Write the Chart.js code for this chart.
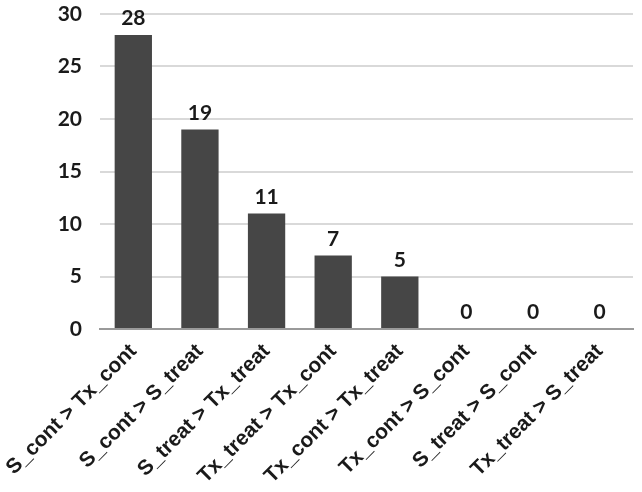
<!DOCTYPE html>
<html>
<head>
<meta charset="utf-8">
<script src="https://cdn.jsdelivr.net/npm/chart.js@4"></script>
<style>
  html, body { margin: 0; padding: 0; background: #fff; }
  #wrap { width: 642px; height: 492px; }
</style>
</head>
<body>
<div id="wrap"><canvas id="chart"></canvas></div>
<script>
const categories = [
  "S_cont > Tx_cont",
  "S_cont > S_treat",
  "S_treat > Tx_treat",
  "Tx_treat > Tx_cont",
  "Tx_cont > Tx_treat",
  "Tx_cont > S_cont",
  "S_treat > S_cont",
  "Tx_treat > S_treat"
];
const counts = [28, 19, 11, 7, 5, 0, 0, 0];
const yTicks = [0, 5, 10, 15, 20, 25, 30];

// draws the value above each bar
const valueLabels = {
  id: "valueLabels",
  afterDatasetsDraw(chart) {
    const ctx = chart.ctx;
    const meta = chart.getDatasetMeta(0);
    ctx.save();
    ctx.font = "bold 21px Lato";
    ctx.fillStyle = "#1a1a1a";
    ctx.textAlign = "center";
    ctx.textBaseline = "bottom";
    meta.data.forEach((bar, i) => {
      ctx.fillText(String(counts[i]), bar.x, bar.y - 6);
    });
    ctx.restore();
  }
};

const ctx = document.getElementById("chart").getContext("2d");
new Chart(ctx, {
  type: "bar",
  data: {
    labels: categories,
    datasets: [{
      data: counts,
      backgroundColor: "#464646",
      categoryPercentage: 1,
      barPercentage: 0.56
    }]
  },
  options: {
    responsive: true,
    maintainAspectRatio: false,
    animation: false,
    layout: { padding: { top: 14, right: 9, left: 0, bottom: 0 } },
    plugins: {
      legend: { display: false },
      tooltip: { enabled: false }
    },
    scales: {
      x: {
        afterFit: (scale) => {
          scale.height = 163;
          scale.paddingLeft = 0;
          scale.paddingRight = 0;
        },
        grid: { display: false, drawTicks: false },
        border: { display: true, color: "#9a9a9a", width: 2 },
        ticks: {
          minRotation: 45,
          maxRotation: 45,
          padding: 10,
          color: "#1a1a1a",
          font: { family: "Liberation Sans", size: 21, weight: "bold" }
        }
      },
      y: {
        min: 0,
        max: 30,
        afterBuildTicks: (scale) => {
          scale.ticks = yTicks.map((v) => ({ value: v }));
        },
        afterFit: (scale) => {
          scale.width = 100;
          scale.paddingTop = 0;
          scale.paddingBottom = 0;
        },
        grid: { color: "#d9d9d9", lineWidth: 2, drawTicks: false },
        border: { display: false },
        ticks: {
          padding: 18,
          color: "#1a1a1a",
          font: { family: "Lato", size: 21, weight: "bold" }
        }
      }
    }
  },
  plugins: [valueLabels]
});
</script>
</body>
</html>
